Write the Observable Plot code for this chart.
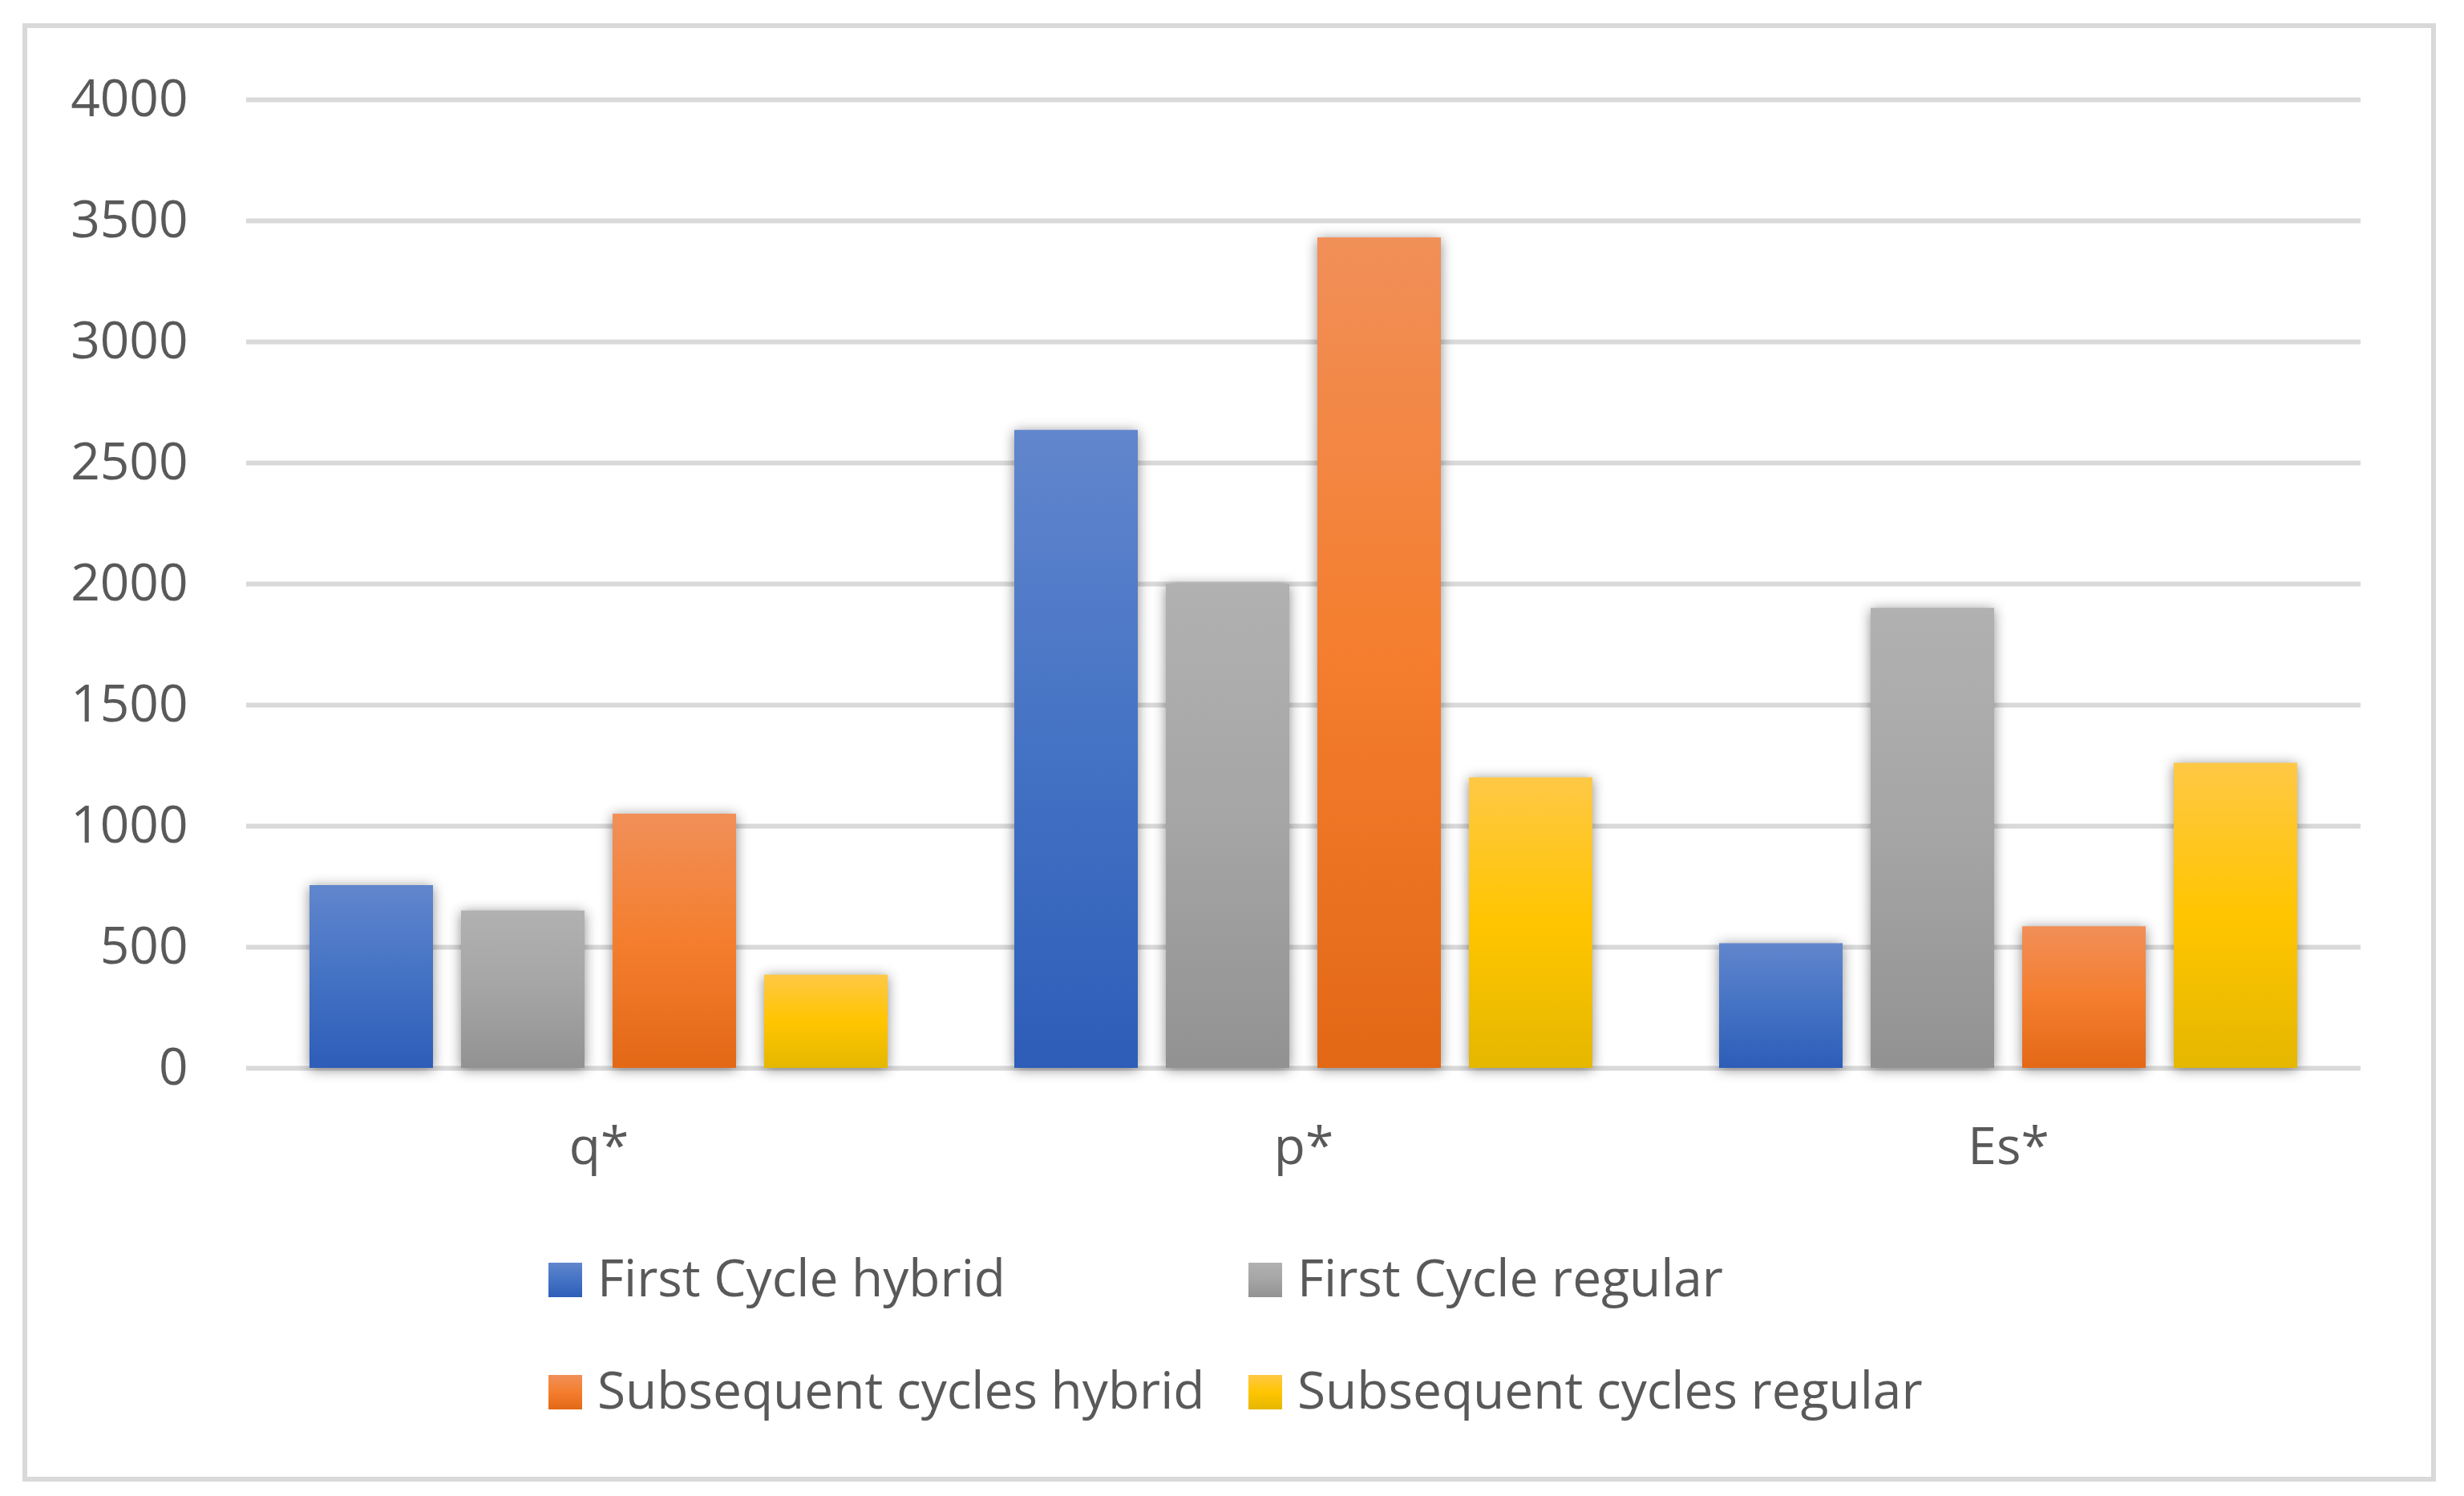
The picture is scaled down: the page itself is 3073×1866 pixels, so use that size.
<!DOCTYPE html>
<html>
<head>
<meta charset="utf-8">
<script src="https://cdn.jsdelivr.net/npm/d3@7"></script>
<script src="https://cdn.jsdelivr.net/npm/@observablehq/plot@0.6"></script>
<style>
  html, body { margin: 0; padding: 0; background: #ffffff; }
  body { width: 3073px; height: 1866px; position: relative; overflow: hidden; font-family: "Open Sans", sans-serif; }
  #chart { position: absolute; left: 0; top: 0; }
  #frame { position: absolute; left: 28px; top: 29px; width: 3010px; height: 1819px; box-sizing: border-box; border: 6px solid #d9d9d9; pointer-events: none; }
  .item { position: absolute; height: 64px; }
  .sw { position: absolute; left: 0; width: 42px; height: 43px; }
  .lab { position: absolute; left: 61px; top: 0; font-size: 64px; line-height: 64px; color: #595959; white-space: nowrap; }
</style>
</head>
<body>
<div id="chart"></div>
<div id="legend"></div>
<div id="frame"></div>
<script>
// ---- data ----
const categories = ["q*", "p*", "Es*"];
const series = ["First Cycle hybrid", "First Cycle regular", "Subsequent cycles hybrid", "Subsequent cycles regular"];
const firstCycleHybrid = [755, 2635, 515];
const firstCycleRegular = [650, 2000, 1900];
const subsequentCyclesHybrid = [1050, 3430, 585];
const subsequentCyclesRegular = [385, 1200, 1260];
const yTicks = [0, 500, 1000, 1500, 2000, 2500, 3000, 3500, 4000];

// gradient colours (top, middle, bottom) per series
const gradients = [
  ["#6186cd", "#4472c4", "#2d5db8"],
  ["#b1b1b1", "#a5a5a5", "#929292"],
  ["#f18f58", "#f47e2e", "#e36816"],
  ["#ffc845", "#ffc500", "#e5b700"]
];
const gradIds = series.map((s, i) => "grad" + i);

const valuesBySeries = [firstCycleHybrid, firstCycleRegular, subsequentCyclesHybrid, subsequentCyclesRegular];
const table = [];
categories.forEach((c, ci) => {
  series.forEach((s, si) => {
    table.push({category: c, series: s, value: valuesBySeries[si][ci]});
  });
});

const chart = Plot.plot({
  width: 3073,
  height: 1500,
  marginLeft: 306,
  marginRight: 129,
  marginTop: 124,
  marginBottom: 168,
  style: {fontFamily: "Open Sans", fontSize: "64px", color: "#595959", background: "transparent"},
  fx: {domain: categories, padding: 0, label: null},
  x: {domain: series, paddingInner: 0.184, paddingOuter: 0.41, axis: null},
  y: {domain: [0, 4000], label: null},
  color: {domain: series, range: gradIds.map(id => `url(#${id})`)},
  marks: [
    Plot.gridY(yTicks, {stroke: "#d9d9d9", strokeWidth: 6, strokeOpacity: 1}),
    Plot.axisY(yTicks, {tickSize: 0, tickPadding: 73, tickFormat: d => String(d), fill: "#595959", label: null, fontSize: 64}),
    Plot.axisFx({anchor: "bottom", tickSize: 0, tickPadding: 74, label: null, fill: "#595959", fontSize: 64}),
    Plot.barY(table, {fx: "category", x: "series", y: "value", fill: "series"})
  ]
});

// gradient defs
const svg = d3.select(chart.tagName.toLowerCase() === "svg" ? chart : chart.querySelector("svg"));
const defs = svg.insert("defs", ":first-child");
gradients.forEach((g, i) => {
  const lg = defs.append("linearGradient").attr("id", gradIds[i])
    .attr("x1", 0).attr("y1", 0).attr("x2", 0).attr("y2", 1);
  lg.append("stop").attr("offset", "0%").attr("stop-color", g[0]);
  lg.append("stop").attr("offset", "50%").attr("stop-color", g[1]);
  lg.append("stop").attr("offset", "100%").attr("stop-color", g[2]);
});
svg.selectAll('g[aria-label="bar"]').style("filter", "drop-shadow(0px 2px 8px rgba(0,0,0,0.45))");

document.getElementById("chart").appendChild(chart);

// legend
const legend = document.getElementById("legend");
const positions = [[684, 1561], [1557, 1561], [684, 1701], [1557, 1701]];
series.forEach((s, i) => {
  const item = document.createElement("div");
  item.className = "item";
  item.style.left = positions[i][0] + "px";
  item.style.top = positions[i][1] + "px";
  const sw = document.createElement("div");
  sw.className = "sw";
  sw.style.top = "14px";
  sw.style.background = `linear-gradient(to bottom, ${gradients[i][0]}, ${gradients[i][1]} 50%, ${gradients[i][2]})`;
  const lab = document.createElement("div");
  lab.className = "lab";
  lab.textContent = s;
  item.appendChild(sw);
  item.appendChild(lab);
  legend.appendChild(item);
});
</script>
</body>
</html>
